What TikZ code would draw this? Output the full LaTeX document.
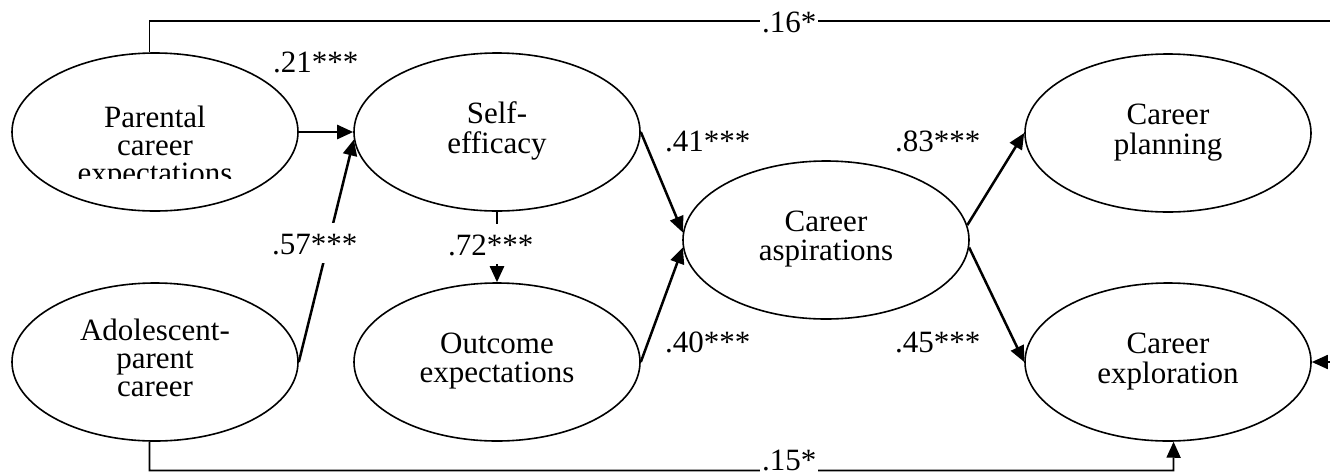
\documentclass[tikz,border=0pt]{standalone}
\usepackage{fontspec}
\setmainfont{Liberation Serif}
\usetikzlibrary{arrows.meta,shapes.geometric}
\newcommand{\lines}[2][c]{\begin{tabular}[#1]{@{}c@{}}#2\end{tabular}}
\begin{document}
\begin{tikzpicture}[x=1pt,y=-1pt,
  txt/.style={font=\fontsize{31}{28}\selectfont},
  latent/.style={txt,ellipse,draw,line width=1.6pt,minimum width=286pt,
    minimum height=158pt,inner sep=0pt},
  effect/.style={line width=2.5pt,-{Triangle[length=16pt,width=14pt]}},
  link/.style={line width=1.8pt,-{Triangle[length=16pt,width=14pt]}},
  coef/.style={txt,inner sep=0pt,anchor=base west},
  coefbox/.style={txt,anchor=base west,fill=white,inner xsep=2pt,
    inner ysep=3pt,text height=28pt,text depth=6pt}]
\useasboundingbox (0,0) rectangle (1330,475);

% latent variables
\node[latent] (pce) at (155,132) {};
\begin{scope}
  \clip (60,90) rectangle (250,178);
  \node[txt,inner sep=0pt,anchor=base] (pcetext) at (155,127)
    {\lines[t]{Parental\\career\\expectations}};
\end{scope}
\node[latent] (ape) at (155,362) {\lines{Adolescent-\\parent\\career}};
\node[latent] (se)  at (497,132) {\lines{Self-\\efficacy}};
\node[latent] (oe)  at (497,362) {\lines{Outcome\\expectations}};
\node[latent] (ca)  at (826,240) {\lines{Career\\aspirations}};
\node[latent] (cp)  at (1168,133) {\lines{Career\\planning}};
\node[latent] (ce)  at (1168,362) {\lines{Career\\exploration}};

% structural paths
\draw[effect] (pce.east) -- (se.west);
\draw[effect] (ape.east) -- (se.183);
\draw[effect] (se.south) -- (oe.north);
\draw[effect] (se.east) -- (ca.177);
\draw[effect] (oe.east) -- (ca.183);
\draw[effect] (ca.6) -- (cp.west);
\draw[effect] (ca.-3) -- (ce.west);

% direct paths to career exploration
\coordinate (tr) at (1350,21);
\coordinate (bot) at (1173.5,470.5);
\draw[link] (pce.94) |- (tr) |- (ce.east);
\draw[link] (ape.266) |- (bot) -- (ce.274);

% path coefficients
\node[coef] (l21) at (273,72) {.21***};
\node[coef] (l41) at (665,151) {.41***};
\node[coef] (l83) at (895,151) {.83***};
\node[coef] (l40) at (665,352) {.40***};
\node[coef] (l45) at (895,352) {.45***};
\node[coefbox] (l57) at (270,254) {.57***};
\node[coefbox] (l72) at (446,255) {.72***};
\node[coefbox] (l16) at (760,32) {.16*\hspace{10pt}};
\node[coefbox,text depth=0pt,inner ysep=1.5pt] (l15) at (760,470) {.15*\hspace{20pt}};
\end{tikzpicture}
\end{document}
